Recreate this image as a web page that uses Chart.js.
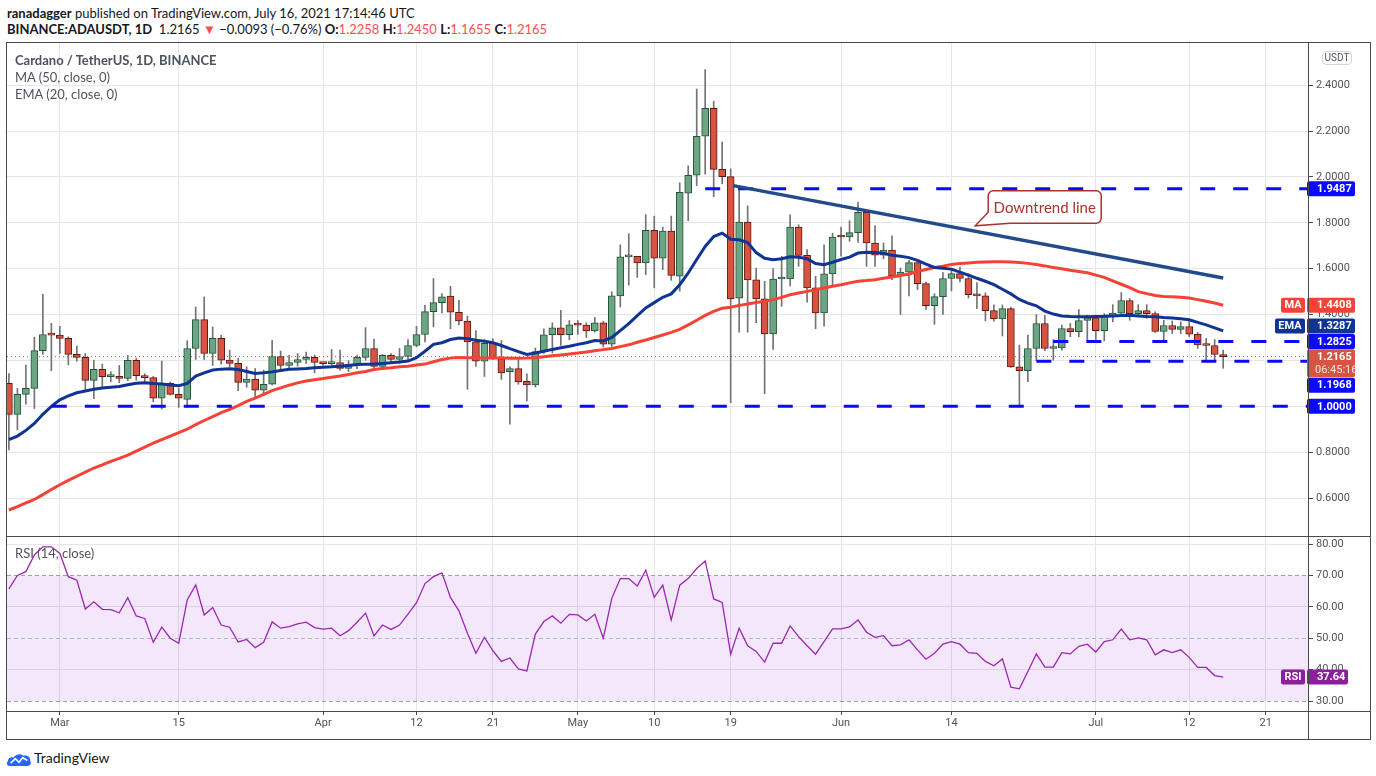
<!DOCTYPE html>
<html>
<head>
<meta charset="utf-8">
<script src="https://cdn.jsdelivr.net/npm/chart.js@4.4.0/dist/chart.umd.min.js"></script>
<style>
  html, body { margin: 0; padding: 0; background: #fff; }
  body { width: 1376px; height: 776px; position: relative; overflow: hidden; font-family: Lato, 'Noto Sans', sans-serif; color: #131722; }
  .hdr { position: absolute; left: 7px; font-size: 13px; white-space: nowrap; }
  #h1 { top: 5px; }
  #h2 { top: 21px; }
  .dn { color: #ef5350; }
  .box { position: absolute; }
  .ln { position: absolute; background: #4a4a4a; z-index: 5; }
  .leg { position: absolute; left: 15px; font-size: 13px; color: #50535e; white-space: nowrap; z-index: 6; }
  #usdt { position: absolute; left: 1322px; top: 51px; width: 30px; height: 14px; box-sizing: border-box; border: 1px solid #d1d4dc; border-radius: 4px; font: 10px Roboto, sans-serif; color: #50535e; text-align: center; line-height: 12px; z-index: 6; background: #fff; }
  #logo { position: absolute; left: 6px; top: 749px; font-size: 14px; color: #131722; white-space: nowrap; }
  #logo svg { vertical-align: middle; margin-right: 2px; }
</style>
</head>
<body>
<div class="hdr" id="h1"><b>ranadagger</b> published on TradingView.com, July 16, 2021 17:14:46 UTC</div>
<div class="hdr" id="h2"></div>

<div class="box" style="left:7px; top:42px; width:1363px; height:494px;"><canvas id="price" width="1363" height="494"></canvas></div>
<div class="box" style="left:7px; top:536px; width:1363px; height:203px;"><canvas id="rsi" width="1363" height="203"></canvas></div>

<div class="ln" style="left:6px; top:42px; width:1365px; height:1px;"></div>
<div class="ln" style="left:6px; top:739px; width:1365px; height:1px;"></div>
<div class="ln" style="left:6px; top:42px; width:1px; height:698px;"></div>
<div class="ln" style="left:1370px; top:42px; width:1px; height:698px;"></div>
<div class="ln" style="left:1308px; top:42px; width:1px; height:698px;"></div>
<div class="ln" style="left:6px; top:536px; width:1365px; height:1px;"></div>
<div class="ln" style="left:6px; top:711px; width:1365px; height:1px;"></div>

<div class="leg" style="top:52px; font-weight:bold; color:#4c525e;">Cardano / TetherUS, 1D, BINANCE</div>
<div class="leg" style="top:69px;">MA (50, close, 0)</div>
<div class="leg" style="top:86px;">EMA (20, close, 0)</div>
<div class="leg" style="top:545px;">RSI (14, close)</div>
<div id="usdt">USDT</div>

<div id="logo"><svg width="26" height="15" viewBox="0 0 28 16"><path d="M4 15 C1 15 0 12 2 10 C2 6 6 5 8 6 C10 2 16 1 19 4 C23 3 27 6 26 10 C28 12 26 15 23 15 Z" fill="#2962ff"/><polyline points="5,12 10,7 14,11 18,6 23,9" stroke="#fff" stroke-width="1.8" fill="none"/></svg>TradingView</div>

<script>
// ADA/USDT daily, day 0 = 2021-02-23
const opens = [1.100,0.965,1.052,1.078,1.243,1.313,1.310,1.296,1.226,1.213,
  1.113,1.161,1.129,1.131,1.122,1.200,1.133,1.125,1.035,1.100,
  1.052,1.030,1.252,1.378,1.230,1.296,1.201,1.187,1.104,1.119,
  1.070,1.096,1.217,1.178,1.191,1.204,1.213,1.191,1.186,1.191,
  1.165,1.183,1.213,1.252,1.174,1.222,1.204,1.217,1.265,1.313,
  1.413,1.452,1.480,1.410,1.372,1.281,1.197,1.274,1.207,1.151,
  1.164,1.109,1.093,1.239,1.312,1.342,1.312,1.355,1.354,1.329,
  1.364,1.271,1.481,1.651,1.654,1.625,1.767,1.646,1.764,1.567,
  1.929,2.007,2.177,2.299,2.033,2.001,1.471,1.803,1.551,1.468,
  1.316,1.555,1.555,1.781,1.658,1.516,1.407,1.577,1.742,1.738,
  1.757,1.846,1.712,1.659,1.681,1.568,1.585,1.626,1.535,1.439,
  1.478,1.557,1.578,1.557,1.487,1.481,1.417,1.381,1.426,1.172,
  1.155,1.252,1.361,1.252,1.254,1.339,1.325,1.374,1.386,1.330,
  1.396,1.406,1.461,1.404,1.417,1.404,1.326,1.352,1.335,1.348,
  1.314,1.267,1.265,1.2258];
const highs = [1.143,1.078,1.180,1.301,1.488,1.362,1.349,1.303,1.262,1.230,
  1.201,1.184,1.151,1.178,1.222,1.210,1.142,1.130,1.197,1.106,
  1.078,1.286,1.433,1.477,1.346,1.310,1.245,1.209,1.172,1.164,
  1.158,1.288,1.241,1.222,1.230,1.236,1.223,1.191,1.248,1.245,
  1.199,1.223,1.343,1.293,1.226,1.230,1.252,1.291,1.349,1.440,
  1.557,1.491,1.523,1.462,1.393,1.330,1.291,1.294,1.287,1.172,
  1.204,1.142,1.254,1.338,1.364,1.418,1.374,1.374,1.364,1.387,
  1.371,1.499,1.704,1.752,1.654,1.835,1.829,1.781,1.829,1.974,
  2.048,2.383,2.468,2.330,2.152,2.035,1.958,1.874,1.603,1.545,
  1.600,1.654,1.835,1.791,1.683,1.567,1.704,1.755,1.781,1.809,
  1.890,1.849,1.787,1.712,1.743,1.603,1.636,1.636,1.542,1.491,
  1.583,1.596,1.607,1.578,1.539,1.494,1.442,1.442,1.433,1.267,
  1.310,1.400,1.396,1.291,1.354,1.361,1.422,1.397,1.397,1.404,
  1.443,1.496,1.470,1.443,1.443,1.412,1.375,1.372,1.368,1.375,
  1.322,1.296,1.291,1.2450];
const lows = [0.810,0.897,1.009,0.990,1.226,1.155,1.230,1.181,1.197,1.071,
  1.033,1.083,1.107,1.103,1.112,1.114,1.109,1.020,0.988,1.049,
  0.995,0.995,1.204,1.204,1.178,1.184,1.172,1.068,1.083,1.039,
  1.046,1.093,1.158,1.165,1.175,1.187,1.146,1.178,1.172,1.158,
  1.151,1.164,1.201,1.158,1.170,1.187,1.187,1.204,1.259,1.281,
  1.346,1.407,1.338,1.355,1.074,1.174,1.130,1.204,1.117,0.922,
  1.096,1.023,1.084,1.230,1.232,1.265,1.290,1.313,1.300,1.323,
  1.258,1.261,1.433,1.528,1.562,1.574,1.516,1.596,1.549,1.502,
  1.809,1.962,2.012,1.914,1.970,1.016,1.323,1.323,1.364,1.055,
  1.248,1.436,1.525,1.610,1.454,1.338,1.349,1.523,1.654,1.719,
  1.714,1.610,1.610,1.643,1.552,1.400,1.481,1.509,1.422,1.357,
  1.400,1.503,1.542,1.472,1.426,1.372,1.371,1.306,1.169,1.000,
  1.107,1.199,1.242,1.201,1.245,1.303,1.303,1.285,1.291,1.285,
  1.368,1.394,1.375,1.390,1.383,1.322,1.286,1.317,1.317,1.303,
  1.252,1.201,1.201,1.1655];
const closes = [0.965,1.052,1.078,1.243,1.313,1.310,1.296,1.226,1.213,1.113,
  1.161,1.129,1.131,1.122,1.200,1.133,1.125,1.035,1.100,1.052,
  1.035,1.252,1.378,1.230,1.296,1.201,1.187,1.104,1.119,1.070,
  1.096,1.217,1.178,1.191,1.204,1.213,1.191,1.186,1.191,1.165,
  1.183,1.213,1.252,1.174,1.222,1.204,1.217,1.265,1.313,1.413,
  1.452,1.477,1.410,1.372,1.281,1.197,1.274,1.207,1.146,1.164,
  1.106,1.093,1.239,1.312,1.342,1.312,1.355,1.354,1.329,1.364,
  1.271,1.481,1.651,1.654,1.625,1.767,1.646,1.764,1.571,1.933,
  2.007,2.177,2.299,2.033,2.001,1.468,1.803,1.551,1.468,1.316,
  1.555,1.558,1.781,1.658,1.516,1.407,1.577,1.738,1.738,1.757,
  1.846,1.712,1.659,1.681,1.568,1.585,1.626,1.535,1.439,1.478,
  1.557,1.578,1.557,1.487,1.481,1.417,1.381,1.426,1.172,1.155,
  1.252,1.361,1.252,1.254,1.339,1.325,1.374,1.386,1.330,1.396,
  1.406,1.461,1.404,1.417,1.404,1.326,1.352,1.335,1.348,1.314,
  1.267,1.265,1.2258,1.2165];
const ma50 = [0.548,0.563,0.579,0.594,0.615,0.637,0.658,0.677,0.695,0.713,
  0.731,0.745,0.760,0.773,0.787,0.805,0.822,0.839,0.855,0.870,
  0.885,0.900,0.920,0.938,0.955,0.972,0.987,1.003,1.021,1.036,
  1.052,1.068,1.080,1.092,1.102,1.110,1.116,1.121,1.127,1.132,
  1.139,1.146,1.152,1.160,1.165,1.168,1.172,1.175,1.180,1.184,
  1.194,1.204,1.210,1.213,1.212,1.211,1.211,1.210,1.210,1.209,
  1.209,1.210,1.212,1.216,1.220,1.224,1.228,1.232,1.237,1.242,
  1.247,1.252,1.260,1.268,1.279,1.289,1.300,1.311,1.322,1.335,
  1.355,1.375,1.396,1.414,1.427,1.432,1.440,1.446,1.452,1.458,
  1.465,1.475,1.486,1.494,1.501,1.508,1.516,1.523,1.530,1.538,
  1.545,1.548,1.552,1.558,1.564,1.570,1.577,1.587,1.596,1.605,
  1.611,1.618,1.622,1.625,1.628,1.629,1.630,1.630,1.629,1.627,
  1.623,1.618,1.612,1.605,1.600,1.593,1.588,1.582,1.572,1.562,
  1.547,1.532,1.517,1.500,1.491,1.483,1.479,1.477,1.475,1.472,
  1.465,1.458,1.450,1.4408];
const ema20 = [0.855,0.870,0.895,0.925,0.965,1.000,1.028,1.045,1.059,1.067,
  1.074,1.080,1.083,1.086,1.094,1.100,1.103,1.099,1.097,1.093,
  1.090,1.100,1.132,1.146,1.158,1.162,1.164,1.160,1.152,1.143,
  1.146,1.150,1.156,1.161,1.163,1.165,1.168,1.170,1.172,1.175,
  1.178,1.182,1.183,1.184,1.187,1.190,1.193,1.197,1.212,1.240,
  1.270,1.277,1.291,1.298,1.295,1.288,1.284,1.277,1.265,1.251,
  1.238,1.226,1.232,1.240,1.248,1.255,1.262,1.270,1.277,1.287,
  1.285,1.300,1.330,1.360,1.395,1.429,1.452,1.475,1.490,1.530,
  1.581,1.640,1.697,1.740,1.755,1.728,1.726,1.714,1.670,1.645,
  1.639,1.643,1.652,1.650,1.643,1.622,1.617,1.628,1.640,1.650,
  1.668,1.672,1.670,1.667,1.658,1.654,1.648,1.636,1.620,1.605,
  1.602,1.598,1.585,1.572,1.558,1.545,1.530,1.510,1.490,1.466,
  1.450,1.438,1.415,1.402,1.394,1.391,1.390,1.390,1.391,1.392,
  1.394,1.396,1.397,1.394,1.391,1.390,1.387,1.385,1.382,1.377,
  1.366,1.355,1.342,1.3287];
const rsi14 = [65.7,70.0,71.2,76.5,79.1,79.1,77.0,69.6,68.5,59.3,
  61.6,59.2,59.1,58.1,62.9,57.1,56.3,48.7,53.5,50.0,
  48.4,62.2,67.0,57.4,59.8,54.2,53.5,48.8,49.6,47.0,
  48.7,55.2,53.2,53.7,54.6,55.1,53.4,52.9,53.2,50.8,
  52.4,55.1,58.0,50.7,54.2,52.8,54.2,57.7,61.3,67.4,
  69.6,70.8,63.0,58.7,51.6,45.2,50.3,46.0,42.6,43.7,
  40.2,39.6,51.3,55.3,57.1,54.8,57.6,57.4,55.5,57.6,
  50.0,62.7,69.0,69.0,66.6,71.7,63.0,66.9,55.8,66.9,
  69.0,72.2,74.6,62.5,61.4,44.9,53.2,47.6,45.8,42.4,
  48.4,48.4,53.9,50.5,47.6,44.9,48.9,53.0,53.0,53.6,
  55.8,51.9,50.3,50.8,47.6,47.9,49.5,46.3,43.3,45.2,
  48.1,48.9,48.1,45.4,45.2,42.6,41.2,43.4,34.4,33.9,
  39.4,45.0,40.8,40.8,45.4,45.0,47.4,48.1,45.6,48.9,
  49.5,52.9,49.5,50.1,49.5,44.7,46.3,45.4,46.3,43.9,
  40.7,40.7,38.1,37.64];

// horizontal levels drawn on the chart, and the day each one starts
const levelValues = [1.9487, 1.2825, 1.1968, 1.0];
const levelStart = [82, 123, 121, 5.05];
// downtrend line end points (day, price)
const trendDays = [85.3, 143];
const trendValues = [1.962, 1.559];
const calloutTip = [113.8, 1.787];

const tickDays = [6, 20, 37, 48, 57, 67, 76, 85, 98, 111, 128, 139, 148];
const tickLabels = ['Mar', '15', 'Apr', '12', '21', 'May', '10', '19', 'Jun', '14', 'Jul', '12', '21'];
const priceTicks = [0.6, 0.8, 1.0, 1.2, 1.4, 1.6, 1.8, 2.0, 2.2, 2.4];
const rsiTicks = [30, 40, 50, 60, 70, 80];

const X_MIN = -0.224, X_MAX = 152.99;
const UP = '#6ba583', UP_BORDER = '#225437', DOWN = '#d75442', DOWN_BORDER = '#5b1a13';
const BLUE = '#0a0aff', MA_COL = '#f44336', EMA_COL = '#0f3494';
const last = closes.length - 1;

// header line built from the last candle
const chg = closes[last] - closes[last - 1];
const pct = chg / closes[last - 1] * 100;
const m = s => s.replace('-', '\u2212');
document.getElementById('h2').innerHTML =
  '<b>BINANCE:ADAUSDT, 1D</b>&nbsp; ' + closes[last].toFixed(4) +
  ' <span class="dn">\u25BC</span> ' + m(chg.toFixed(4)) + ' (' + m(pct.toFixed(2)) + '%) ' +
  '<b>O:</b><span class="dn">' + opens[last].toFixed(4) + '</span> ' +
  '<b>H:</b><span class="dn">' + highs[last].toFixed(4) + '</span> ' +
  '<b>L:</b><span class="dn">' + lows[last].toFixed(4) + '</span> ' +
  '<b>C:</b><span class="dn">' + closes[last].toFixed(4) + '</span>';

function xAxis(showLabels) {
  return {
    type: 'linear', min: X_MIN, max: X_MAX, offset: false,
    afterBuildTicks: s => { s.ticks = tickDays.map(v => ({ value: v })); },
    afterFit: s => { s.height = showLabels ? 28 : 0; s.paddingLeft = 0; s.paddingRight = 0; },
    grid: { offset: false, color: '#e6e6e6', drawTicks: showLabels, tickLength: 4, tickColor: '#4a4a4a' },
    border: { display: false },
    ticks: {
      display: showLabels, autoSkip: false, maxRotation: 0, padding: 2,
      color: '#50535e', font: { family: 'Roboto', size: 11 },
      callback: v => tickLabels[tickDays.indexOf(v)]
    }
  };
}

function rr(ctx, x, y, w, h, r) {
  ctx.beginPath();
  ctx.moveTo(x + r, y);
  ctx.arcTo(x + w, y, x + w, y + h, r);
  ctx.arcTo(x + w, y + h, x, y + h, r);
  ctx.arcTo(x, y + h, x, y, r);
  ctx.arcTo(x, y, x + w, y, r);
  ctx.closePath();
}

function tag(ctx, ax, yc, bg, text, opt) {
  opt = opt || {};
  const h = opt.sub ? 28 : 15;
  const top = yc - 7.5;
  ctx.fillStyle = bg;
  rr(ctx, ax - 1, top, opt.w || 48, h, 2);
  ctx.fill();
  ctx.fillStyle = '#fff';
  ctx.font = 'bold 11px Roboto';
  ctx.textAlign = 'left';
  ctx.textBaseline = 'middle';
  ctx.fillText(text, ax + 9, yc + 0.5);
  if (opt.sub) {
    ctx.font = '11px Roboto';
    ctx.fillStyle = 'rgba(255,255,255,0.85)';
    ctx.fillText(opt.sub, ax + 7, yc + 13.5);
  }
  if (opt.label) {
    const lw = opt.labelW;
    ctx.fillStyle = bg;
    rr(ctx, ax - 3 - lw, top, lw, 15, 2);
    ctx.fill();
    ctx.fillStyle = '#fff';
    ctx.font = 'bold 11px Roboto';
    ctx.textAlign = 'center';
    ctx.fillText(opt.label, ax - 3 - lw / 2, yc + 0.5);
  }
}

const priceOverlay = {
  id: 'priceOverlay',
  afterDraw(chart) {
    const { ctx, chartArea } = chart;
    const x = chart.scales.x, y = chart.scales.y;
    ctx.save();
    // callout for the trend line
    const tx = x.getPixelForValue(calloutTip[0]), ty = y.getPixelForValue(calloutTip[1]);
    const L = tx + 13, R = tx + 126, T = ty - 35, B = ty - 2.5, r = 5;
    ctx.beginPath();
    ctx.moveTo(L + r, T);
    ctx.arcTo(R, T, R, B, r);
    ctx.arcTo(R, B, L, B, r);
    ctx.lineTo(L + 22, B);
    ctx.lineTo(tx, ty);
    ctx.lineTo(L, B - 11);
    ctx.arcTo(L, T, R, T, r);
    ctx.closePath();
    ctx.fillStyle = '#fff';
    ctx.fill();
    ctx.strokeStyle = '#a8332f';
    ctx.lineWidth = 1.5;
    ctx.stroke();
    ctx.fillStyle = '#a8332f';
    ctx.font = '15px Lato';
    ctx.textAlign = 'center';
    ctx.textBaseline = 'middle';
    ctx.fillText('Downtrend line', (L + R) / 2, (T + B) / 2 + 1);

    // price scale tags
    const ax = chartArea.right;
    const py = v => y.getPixelForValue(v);
    tag(ctx, ax, py(levelValues[0]), BLUE, levelValues[0].toFixed(4));
    tag(ctx, ax, py(ma50[last]), MA_COL, ma50[last].toFixed(4), { label: 'MA', labelW: 24 });
    tag(ctx, ax, py(ema20[last]) - 5, EMA_COL, ema20[last].toFixed(4), { label: 'EMA', labelW: 30 });
    tag(ctx, ax, py(levelValues[1]), BLUE, levelValues[1].toFixed(4));
    tag(ctx, ax, py(levelValues[3]), BLUE, levelValues[3].toFixed(4));
    tag(ctx, ax, py(levelValues[2]) + 24, BLUE, levelValues[2].toFixed(4));
    tag(ctx, ax, py(closes[last]), DOWN, closes[last].toFixed(4), { sub: '06:45:16' });
    ctx.restore();
  }
};

const candleColor = (c, a, b) => closes[c.dataIndex] >= opens[c.dataIndex] ? a : b;

const levelSets = levelValues.map((v, i) => ({
  type: 'line',
  data: [{ x: levelStart[i], y: v }, { x: X_MAX, y: v }],
  borderColor: BLUE, borderWidth: 3, borderDash: [15, 18], pointRadius: 0
}));

new Chart(document.getElementById('price'), {
  type: 'bar',
  data: {
    datasets: [
      { type: 'line', data: trendDays.map((d, i) => ({ x: d, y: trendValues[i] })),
        borderColor: '#234b8c', borderWidth: 3.5, pointRadius: 0 },
      ...levelSets,
      { type: 'line', data: ema20.map((v, i) => ({ x: i, y: v })),
        borderColor: EMA_COL, borderWidth: 3, pointRadius: 0 },
      { type: 'line', data: ma50.map((v, i) => ({ x: i, y: v })),
        borderColor: MA_COL, borderWidth: 3, pointRadius: 0 },
      { type: 'bar', data: opens.map((o, i) => ({ x: i, y: [o, closes[i]] })),
        backgroundColor: c => candleColor(c, UP, DOWN),
        borderColor: c => candleColor(c, UP_BORDER, DOWN_BORDER),
        borderWidth: 1, borderSkipped: false, barThickness: 7, grouped: false, minBarLength: 2 },
      { type: 'bar', data: lows.map((l, i) => ({ x: i, y: [l, highs[i]] })),
        backgroundColor: '#737375', barThickness: 1, grouped: false },
      { type: 'line', data: [{ x: X_MIN, y: closes[last] }, { x: X_MAX, y: closes[last] }],
        borderColor: DOWN, borderWidth: 1, borderDash: [1, 3], pointRadius: 0 }
    ]
  },
  options: {
    responsive: false, animation: false, events: [],
    layout: { padding: 0 },
    plugins: { legend: { display: false }, tooltip: { enabled: false } },
    scales: {
      x: xAxis(false),
      y: {
        position: 'right', min: 0.4346, max: 2.588,
        afterBuildTicks: s => { s.ticks = priceTicks.map(v => ({ value: v })); },
        afterFit: s => { s.width = 62; s.paddingTop = 0; s.paddingBottom = 0; },
        grid: { color: '#e6e6e6', drawTicks: true, tickLength: 5, tickColor: '#4a4a4a' },
        border: { display: false },
        ticks: { padding: 3, color: '#50535e', font: { family: 'Roboto', size: 11 }, callback: v => v.toFixed(4) }
      }
    }
  },
  plugins: [priceOverlay]
});

const rsiOverlay = {
  id: 'rsiOverlay',
  beforeDatasetsDraw(chart) {
    const { ctx, chartArea: a } = chart;
    const y = chart.scales.y;
    ctx.save();
    ctx.fillStyle = 'rgba(150, 40, 230, 0.11)';
    ctx.fillRect(a.left, y.getPixelForValue(70), a.right - a.left, y.getPixelForValue(30) - y.getPixelForValue(70));
    ctx.setLineDash([4, 3]);
    ctx.lineWidth = 1;
    [70, 50, 30].forEach(v => {
      const py = Math.round(y.getPixelForValue(v)) + 0.5;
      ctx.strokeStyle = v === 50 ? 'rgba(120,123,134,0.45)' : 'rgba(120,123,134,0.7)';
      ctx.beginPath();
      ctx.moveTo(a.left, py);
      ctx.lineTo(a.right, py);
      ctx.stroke();
    });
    ctx.restore();
  },
  afterDraw(chart) {
    const { ctx, chartArea } = chart;
    const y = chart.scales.y;
    ctx.save();
    tag(ctx, chartArea.right, y.getPixelForValue(rsi14[last]), '#8f1e9f', rsi14[last].toFixed(2), { w: 41, label: 'RSI', labelW: 24 });
    ctx.restore();
  }
};

new Chart(document.getElementById('rsi'), {
  type: 'line',
  data: {
    datasets: [
      { data: rsi14.map((v, i) => ({ x: i, y: v })), borderColor: '#9c27b0', borderWidth: 1.3, pointRadius: 0 }
    ]
  },
  options: {
    responsive: false, animation: false, events: [],
    layout: { padding: 0 },
    plugins: { legend: { display: false }, tooltip: { enabled: false } },
    scales: {
      x: xAxis(true),
      y: {
        position: 'right', min: 26.82, max: 82.55,
        afterBuildTicks: s => { s.ticks = rsiTicks.map(v => ({ value: v })); },
        afterFit: s => { s.width = 62; s.paddingTop = 0; s.paddingBottom = 0; },
        grid: {
          color: c => [30, 50, 70].includes(c.tick && c.tick.value) ? 'rgba(0,0,0,0)' : '#e6e6e6',
          drawTicks: true, tickLength: 5, tickColor: '#4a4a4a'
        },
        border: { display: false },
        ticks: { padding: 3, color: '#50535e', font: { family: 'Roboto', size: 11 }, callback: v => v.toFixed(2) }
      }
    }
  },
  plugins: [rsiOverlay]
});
</script>
</body>
</html>
